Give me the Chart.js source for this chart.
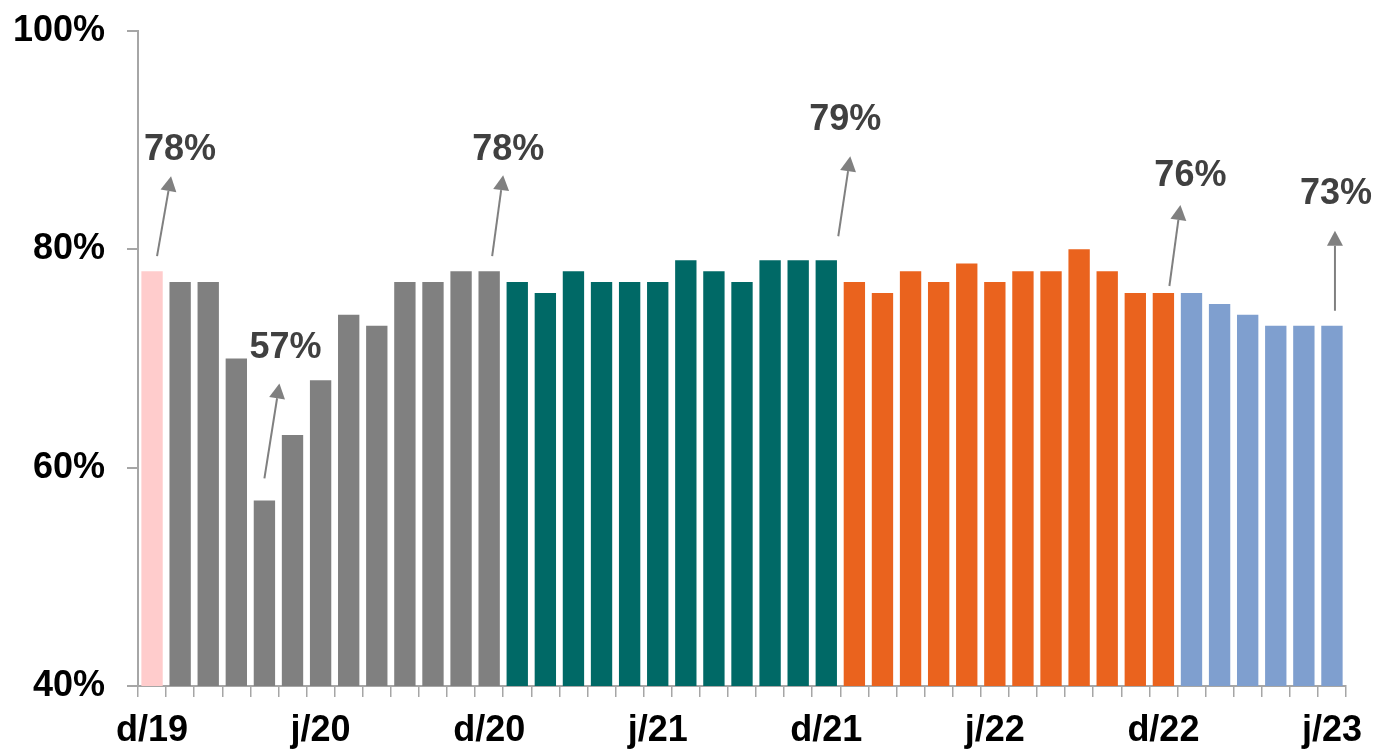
<!DOCTYPE html>
<html>
<head>
<meta charset="utf-8">
<script src="https://cdn.jsdelivr.net/npm/chart.js@4.4.1/dist/chart.umd.min.js"></script>
<style>
  html, body { margin: 0; padding: 0; background: #fff; }
  #wrap { width: 1377px; height: 749px; position: relative; }
</style>
</head>
<body>
<div id="wrap"><canvas id="chart"></canvas></div>
<script>
// meses de dez/19 a jun/23
const months = [
  'dez/19',
  'jan/20','fev/20','mar/20','abr/20','mai/20','jun/20','jul/20','ago/20','set/20','out/20','nov/20','dez/20',
  'jan/21','fev/21','mar/21','abr/21','mai/21','jun/21','jul/21','ago/21','set/21','out/21','nov/21','dez/21',
  'jan/22','fev/22','mar/22','abr/22','mai/22','jun/22','jul/22','ago/22','set/22','out/22','nov/22','dez/22',
  'jan/23','fev/23','mar/23','abr/23','mai/23','jun/23'
];

// valores (%) por período
const values2019 = [78];
const values2020 = [77, 77, 70, 57, 63, 68, 74, 73, 77, 77, 78, 78];
const values2021 = [77, 76, 78, 77, 77, 77, 79, 78, 77, 79, 79, 79];
const values2022 = [77, 76, 78, 77, 78.7, 77, 78, 78, 80, 78, 76, 76];
const values2023 = [76, 75, 74, 73, 73, 73];

const periodColors = ['#FFCCCC', '#808080', '#006966', '#EA631E', '#7F9FCF'];
const periods = [values2019, values2020, values2021, values2022, values2023];

// rótulos do eixo x (um a cada 6 meses)
const xTickLabels = ['d/19', 'j/20', 'd/20', 'j/21', 'd/21', 'j/22', 'd/22', 'j/23'];
const yTicks = [40, 60, 80, 100];

// destaques com seta
const calloutIndex = [0, 4, 12, 24, 36, 42];
const calloutText = ['78%', '57%', '78%', '79%', '76%', '73%'];

const values = periods.flat();
const colors = periods.flatMap((p, i) => p.map(() => periodColors[i]));

// deslocamentos das setas em relação ao topo da barra (início, ponta, texto)
const calloutStyle = [
  { from: [5, -15],  to: [19, -95],  text: [28, -121] },
  { from: [0, -22],  to: [15, -117], text: [21, -152] },
  { from: [3, -15],  to: [14, -96],  text: [19, -121] },
  { from: [12, -24], to: [24, -104], text: [19, -140] },
  { from: [6, -7],   to: [17, -88],  text: [27, -117] },
  { from: [3, -15],  to: [3, -95],   text: [4, -132] }
];

const calloutPlugin = {
  id: 'callouts',
  afterDatasetsDraw(chart) {
    const ctx = chart.ctx;
    const meta = chart.getDatasetMeta(0);
    ctx.save();
    calloutIndex.forEach((idx, k) => {
      const bar = meta.data[idx];
      const s = calloutStyle[k];
      const x0 = bar.x + s.from[0], y0 = bar.y + s.from[1];
      const x1 = bar.x + s.to[0], y1 = bar.y + s.to[1];
      const ang = Math.atan2(y1 - y0, x1 - x0);
      const headLen = 15, headHalf = 8;
      const bx = x1 - headLen * Math.cos(ang), by = y1 - headLen * Math.sin(ang);
      ctx.strokeStyle = '#808080';
      ctx.fillStyle = '#808080';
      ctx.lineWidth = 2;
      ctx.beginPath();
      ctx.moveTo(x0, y0);
      ctx.lineTo(bx, by);
      ctx.stroke();
      ctx.beginPath();
      ctx.moveTo(x1, y1);
      ctx.lineTo(bx + headHalf * Math.sin(ang), by - headHalf * Math.cos(ang));
      ctx.lineTo(bx - headHalf * Math.sin(ang), by + headHalf * Math.cos(ang));
      ctx.closePath();
      ctx.fill();
      ctx.fillStyle = '#404040';
      ctx.font = 'bold 36px "Liberation Sans", Arial, sans-serif';
      ctx.textAlign = 'center';
      ctx.textBaseline = 'middle';
      ctx.fillText(calloutText[k], bar.x + s.text[0], bar.y + s.text[1]);
    });
    ctx.restore();
  }
};

new Chart(document.getElementById('chart'), {
  type: 'bar',
  data: {
    labels: months,
    datasets: [{
      data: values,
      backgroundColor: colors,
      barPercentage: 0.76,
      categoryPercentage: 1.0
    }]
  },
  options: {
    responsive: true,
    maintainAspectRatio: false,
    animation: false,
    layout: { padding: { top: 31, right: 31, left: 0, bottom: 0 } },
    plugins: {
      legend: { display: false },
      tooltip: { enabled: false }
    },
    scales: {
      x: {
        grid: {
          display: true,
          drawOnChartArea: false,
          drawTicks: true,
          tickLength: 11,
          color: '#A6A6A6',
          lineWidth: 1.5
        },
        border: { color: '#A6A6A6', width: 2 },
        ticks: {
          autoSkip: false,
          maxRotation: 0,
          padding: 12,
          color: '#000',
          font: { family: '"Liberation Sans", Arial', size: 36, weight: 'bold' },
          callback: (v, i) => (i % 6 === 0 ? xTickLabels[i / 6] : '')
        },
        afterFit: (scale) => {
          scale.height = 63;
          scale.paddingLeft = 0;
          scale.paddingRight = 0;
        }
      },
      y: {
        min: 40,
        max: 100,
        afterBuildTicks: (scale) => { scale.ticks = yTicks.map(v => ({ value: v })); },
        grid: {
          display: true,
          drawOnChartArea: false,
          drawTicks: true,
          tickLength: 11,
          color: '#A6A6A6',
          lineWidth: 2
        },
        border: { color: '#A6A6A6', width: 2 },
        ticks: {
          padding: 22,
          color: '#000',
          font: { family: '"Liberation Sans", Arial', size: 36, weight: 'bold' },
          callback: (v) => v + '%'
        },
        afterFit: (scale) => {
          scale.width = 138;
          scale.paddingTop = 0;
          scale.paddingBottom = 0;
        }
      }
    }
  },
  plugins: [calloutPlugin]
});
</script>
</body>
</html>
